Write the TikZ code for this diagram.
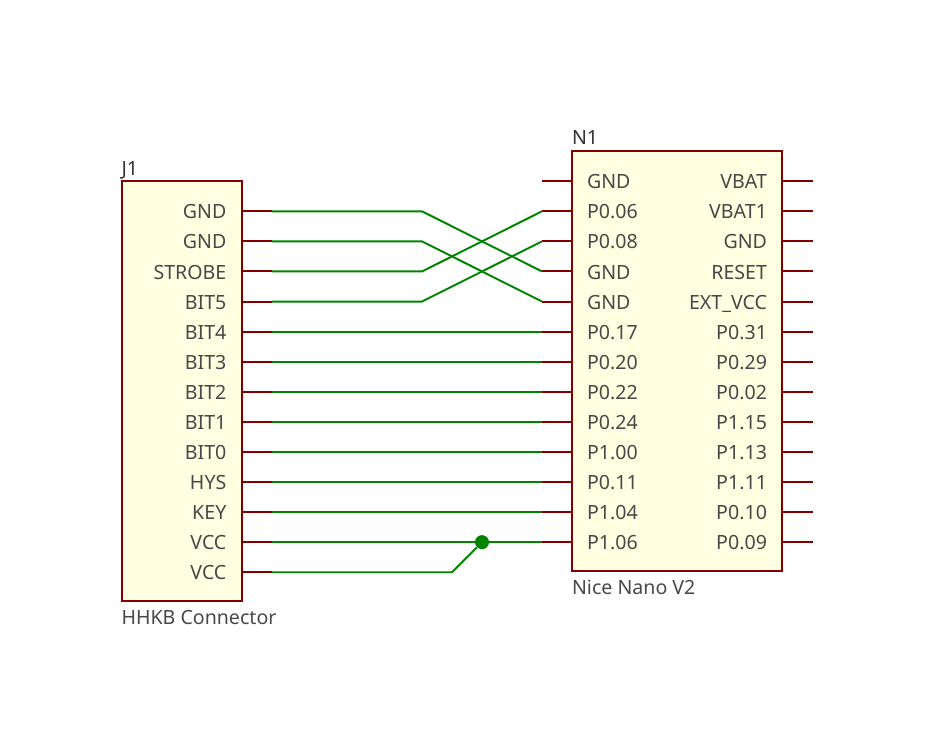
\documentclass[tikz,border=0pt]{standalone}
\usepackage{fontspec}
\setmainfont{Noto Sans}
\usetikzlibrary{positioning}
\definecolor{pinred}{HTML}{840000}
\definecolor{wiregreen}{HTML}{008400}
\definecolor{symfill}{HTML}{FFFFE1}
\definecolor{pintext}{HTML}{484848}
\tikzset{
  symbolbox/.style={rectangle,draw=pinred,fill=symfill,line width=1.6pt,inner sep=0pt,outer sep=0pt,anchor=north west},
  pinline/.style={draw=pinred,line width=1.15pt},
  wire/.style={draw=wiregreen,line width=1.1pt},
  pinname/.style={font=\fontsize{11.15}{13}\selectfont,text=pintext,inner sep=0pt},
  refname/.style={font=\fontsize{11.15}{13}\selectfont,text=black!80,inner sep=0pt,anchor=base west},
  valname/.style={font=\fontsize{11.15}{13}\selectfont,text=pintext,inner sep=0pt,anchor=base west},
  junction/.style={circle,fill=wiregreen,inner sep=0pt,minimum size=8pt},
}
\begin{document}
\begin{tikzpicture}[x=0.02cm,y=-0.02cm]
\useasboundingbox (0,0) rectangle (933,750);

% symbols
\node[symbolbox,minimum width=2.4cm,minimum height=8.4cm] (J1) at (122,181) {};
\node[symbolbox,minimum width=4.2cm,minimum height=8.4cm] (N1) at (572,151) {};
\node[refname] (J1ref) at (121.2,175.5) {J1};
\node[refname] (N1ref) at (571.7,144.5) {N1};
\node[valname] (J1val) at (121.2,624) {HHKB Connector};
\node[valname] (N1val) at (571.7,594) {Nice Nano V2};

% connector pins
\foreach \pin [count=\i from 0] in {GND,GND,STROBE,BIT5,BIT4,BIT3,BIT2,BIT1,BIT0,HYS,KEY,VCC,VCC} {
  \node[pinname,anchor=base east] (J1n\i) at (226.7,{218.9+30.08*\i}) {\pin};
  \coordinate (J1s\i) at (242,{211.3+30.08*\i});
  \coordinate (J1p\i) at (272,{211.3+30.08*\i});
  \draw[pinline] (J1s\i) -- (J1p\i);
}

% nano pins, left side
\foreach \pin [count=\i from 0] in {GND,P0.06,P0.08,GND,GND,P0.17,P0.20,P0.22,P0.24,P1.00,P0.11,P1.04,P1.06} {
  \node[pinname,anchor=base west] (Ln\i) at (586.7,{188.8+30.08*\i}) {\pin};
  \coordinate (Ls\i) at (572,{181.2+30.08*\i});
  \coordinate (Lp\i) at (542,{181.2+30.08*\i});
  \draw[pinline] (Ls\i) -- (Lp\i);
}

% nano pins, right side
\foreach \pin [count=\i from 0] in {VBAT,VBAT1,GND,RESET,EXT\_VCC,P0.31,P0.29,P0.02,P1.15,P1.13,P1.11,P0.10,P0.09} {
  \node[pinname,anchor=base east] (Rn\i) at (767.3,{188.8+30.08*\i}) {\pin};
  \coordinate (Rs\i) at (782,{181.2+30.08*\i});
  \coordinate (Rp\i) at (812.5,{181.2+30.08*\i});
  \draw[pinline] (Rs\i) -- (Rp\i);
}

% crossed wires
\draw[wire] (J1p0) -- ++(150,0) -- (Lp3);
\draw[wire] (J1p1) -- ++(150,0) -- (Lp4);
\draw[wire] (J1p2) -- ++(150,0) -- (Lp1);
\draw[wire] (J1p3) -- ++(150,0) -- (Lp2);

% straight wires
\foreach \i/\j in {4/5,5/6,6/7,7/8,8/9,9/10,10/11,11/12} {
  \draw[wire] (J1p\i) -- (J1p\i -| Lp\j);
}

% the two VCC pins
\node[junction] (vccdot) at (482,{181.2+30.08*12}) {};
\draw[wire] (J1p12) -- ++(180,0) -- (vccdot);

\end{tikzpicture}
\end{document}
